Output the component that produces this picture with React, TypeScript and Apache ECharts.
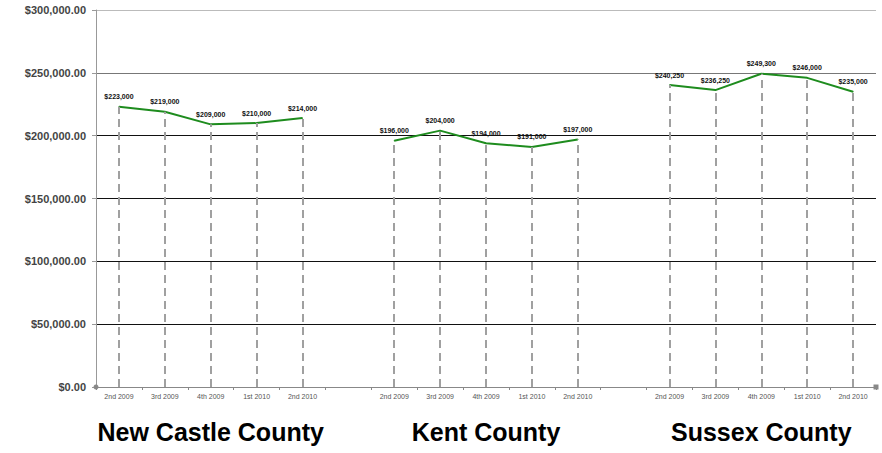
import React, { useEffect, useRef } from "react";
import * as echarts from "echarts";

const quarters = ["2nd 2009", "3rd 2009", "4th 2009", "1st 2010", "2nd 2010"];
const counties = ["New Castle County", "Kent County", "Sussex County"];
const newCastle = [223000, 219000, 209000, 210000, 214000];
const kent = [196000, 204000, 194000, 191000, 197000];
const sussex = [240250, 236250, 249300, 246000, 235000];
const yTicks = [0, 50000, 100000, 150000, 200000, 250000, 300000];

export default function App() {
  const ref = useRef<HTMLDivElement>(null);
  useEffect(() => {
    document.body.style.margin = "0";
    const chart = echarts.init(ref.current!, null, { renderer: "svg" });
    const groups = [newCastle, kent, sussex];
    const cats: string[] = [];
    const vals: (number | null)[] = [];
    groups.forEach((g, gi) => {
      if (gi > 0) {
        cats.push("");
        vals.push(null);
      }
      g.forEach((v, i) => {
        cats.push(quarters[i]);
        vals.push(v);
      });
    });
    const dropLines: any[] = [];
    vals.forEach((v, i) => {
      if (v != null) dropLines.push([{ coord: [i, 0] }, { coord: [i, v] }]);
    });
    const gridLeft = 96;
    const gridRight = 6;
    const width = 882;
    const band = (width - gridLeft - gridRight) / cats.length;
    const centers = [2, 8, 14].map((i) => gridLeft + band * (i + 0.5));
    const fmt = (v: number) =>
      "$" + v.toLocaleString("en-US", { minimumFractionDigits: 2, maximumFractionDigits: 2 });
    chart.setOption({
      animation: false,
      grid: { left: gridLeft, right: gridRight, top: 10, bottom: 66 },
      xAxis: {
        type: "category",
        data: cats,
        boundaryGap: true,
        axisLine: {
          lineStyle: { color: "#888", width: 1 },
          symbol: ["circle", "rect"],
          symbolSize: [5, 5],
        },
        axisTick: { show: true, length: 3, lineStyle: { color: "#888" } },
        axisLabel: {
          interval: 0,
          fontSize: 7,
          color: "#555",
          fontFamily: "Liberation Sans, Arial, sans-serif",
          margin: 6,
        },
        splitLine: { show: false },
      },
      yAxis: {
        type: "value",
        min: yTicks[0],
        max: yTicks[yTicks.length - 1],
        interval: yTicks[1] - yTicks[0],
        axisLine: { show: true, lineStyle: { color: "#999", width: 1 } },
        axisTick: { show: true, length: 4, lineStyle: { color: "#999" } },
        axisLabel: {
          formatter: (v: number) => fmt(v),
          fontSize: 11,
          fontWeight: "bold",
          color: "#444",
          fontFamily: "Liberation Sans, Arial, sans-serif",
          margin: 10,
        },
        splitLine: {
          show: true,
          lineStyle: {
            color: ["#000", "#111", "#111", "#111", "#111", "#777", "#bbb"],
            width: 1,
          },
        },
      },
      graphic: counties.map((c, i) => ({
        type: "text",
        x: centers[i],
        y: 432,
        style: {
          text: c,
          fill: "#000",
          font: "bold 25px 'Liberation Sans', Arial, sans-serif",
          textAlign: "center",
          textVerticalAlign: "middle",
        },
      })),
      series: [
        {
          type: "line",
          data: vals,
          connectNulls: false,
          showSymbol: true,
          symbol: "circle",
          symbolSize: 1,
          lineStyle: { color: "#1e8c1e", width: 2 },
          itemStyle: { color: "#1e8c1e" },
          label: {
            show: true,
            position: "top",
            distance: 6,
            fontSize: 7,
            fontWeight: "bold",
            color: "#111",
            fontFamily: "Liberation Sans, Arial, sans-serif",
            formatter: (p: any) => "$" + Number(p.value).toLocaleString("en-US"),
          },
          markLine: {
            silent: true,
            symbol: "none",
            label: { show: false },
            lineStyle: { color: "#a0a0a0", width: 2, type: [8, 5] },
            data: dropLines,
          },
          z: 3,
        },
      ],
    });
    return () => chart.dispose();
  }, []);
  return <div ref={ref} style={{ width: 882, height: 453 }} />;
}
